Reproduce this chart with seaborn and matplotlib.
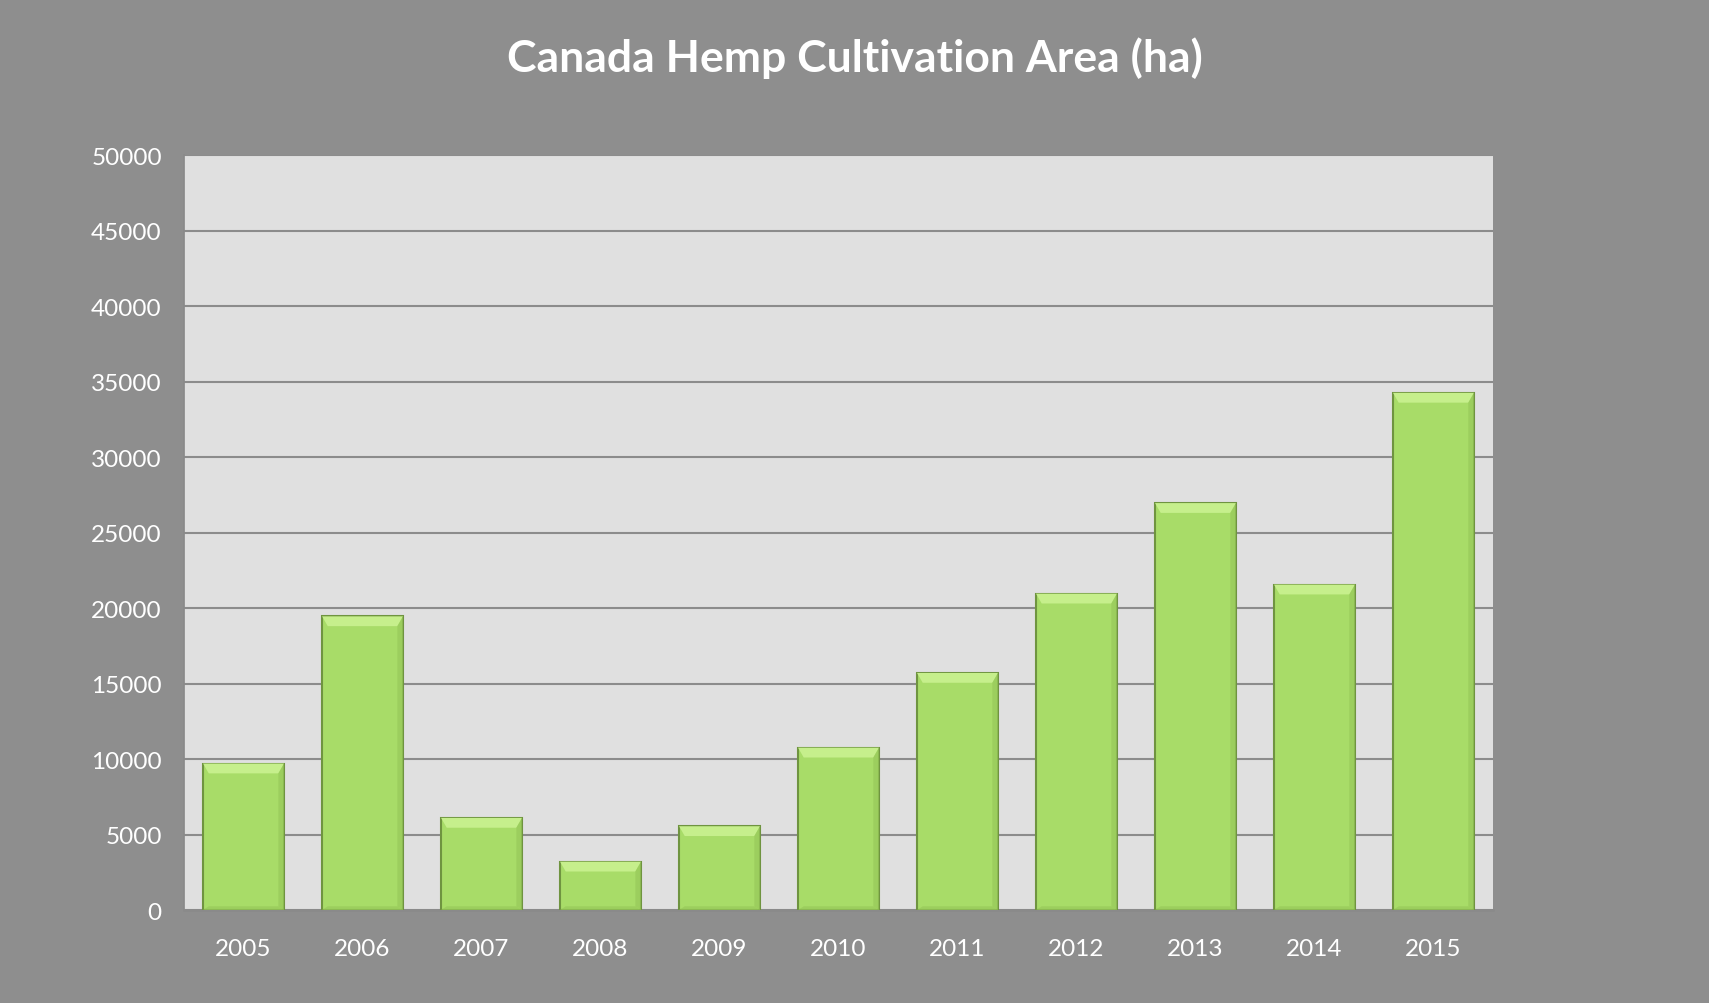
import pandas as pd
import seaborn as sns
import matplotlib.pyplot as plt
from matplotlib.patches import Polygon

years = ['2005', '2006', '2007', '2008', '2009', '2010', '2011', '2012', '2013', '2014', '2015']
area = [9700, 19450, 6100, 3200, 5550, 10750, 15700, 20950, 26950, 21550, 34250]

data = pd.DataFrame({'year': years, 'area': area})

sns.set_theme(style='white')
plt.rcParams['font.family'] = ['Lato', 'DejaVu Sans']

bg = '#8e8e8e'
fig = plt.figure(figsize=(17.09, 10.04), dpi=100, facecolor=bg)
ax = fig.add_axes([0.1077, 0.0926, 0.7659, 0.752])
ax.set_facecolor('#e0e0e0')

sns.barplot(data=data, x='year', y='area', color='#a8dc68', saturation=1,
            width=0.68, edgecolor='#6f9440', linewidth=1.5, ax=ax, zorder=3)

# bevel highlight on top of each bar
for p in ax.patches:
    x0, y0 = p.get_x(), p.get_y()
    w, h = p.get_width(), p.get_height()
    d = 0.07 * w
    dy = 650
    top = Polygon([(x0, y0 + h), (x0 + w, y0 + h), (x0 + w - d, y0 + h - dy), (x0 + d, y0 + h - dy)],
                  closed=True, facecolor='#c6ef8c', edgecolor='none', zorder=4)
    ax.add_patch(top)
    side = Polygon([(x0 + w, y0 + h), (x0 + w, y0), (x0 + w - d, y0 + 250), (x0 + w - d, y0 + h - dy)],
                   closed=True, facecolor='#98c95a', edgecolor='none', zorder=4, alpha=0.7)
    ax.add_patch(side)
    low = Polygon([(x0, y0), (x0 + w, y0), (x0 + w - d, y0 + 250), (x0 + d, y0 + 250)],
                  closed=True, facecolor='#98c95a', edgecolor='none', zorder=4, alpha=0.7)
    ax.add_patch(low)

ax.set_ylim(0, 50000)
ax.set_xlim(-0.5, len(years) - 0.5)
ax.set_yticks(range(0, 50001, 5000))
ax.yaxis.grid(True, color='#8c8c8c', linewidth=1.5, zorder=1)
ax.set_axisbelow(True)

for s in ['top', 'right']:
    ax.spines[s].set_visible(False)
ax.spines['left'].set_color('#8a8a8a')
ax.spines['bottom'].set_color('#8a8a8a')
ax.spines['bottom'].set_linewidth(1.8)

ax.tick_params(axis='y', colors='white', labelsize=17.5, length=6, color='#7a7a7a', pad=10)
ax.tick_params(axis='x', colors='white', labelsize=17.5, length=0, pad=20)
ax.set_xticks(range(len(years)), years)
ax.set_xticks([i + 0.5 for i in range(-1, len(years))], minor=True)
ax.tick_params(axis='x', which='minor', length=6, color='#7a7a7a')

ax.set_xlabel('')
ax.set_ylabel('')

fig.text(0.5, 0.942, 'Canada Hemp Cultivation Area (ha)', ha='center', va='center',
         color='white', fontsize=32, fontweight='bold')

plt.savefig('out.png', dpi=100, facecolor=bg)
